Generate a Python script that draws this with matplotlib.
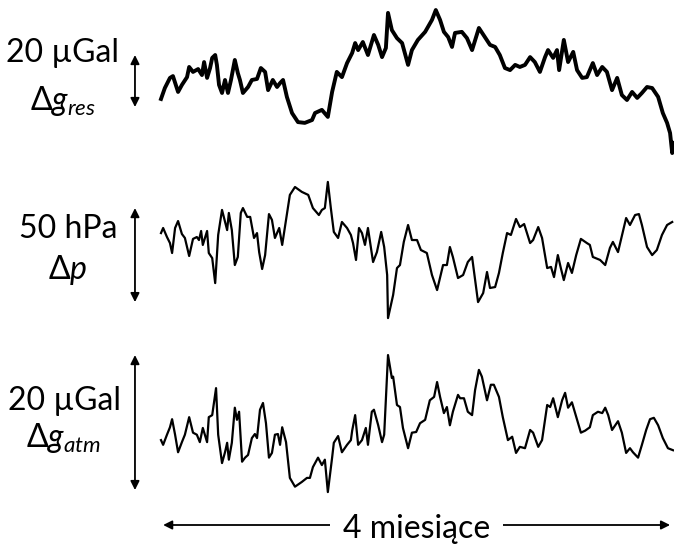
import matplotlib.pyplot as plt
from matplotlib import transforms

# time in days over the 4-month window
days_res = [0.0, 0.9, 2.1, 2.8, 4.0, 4.9, 6.1, 6.6, 7.5, 8.7, 9.6, 10.1, 10.8, 11.5, 12.0, 12.7,
            13.1, 13.6, 14.3, 15.0, 15.7, 16.4, 17.3, 18.0, 18.5, 19.2, 20.4, 21.3, 22.5, 23.4,
            24.4, 25.1, 26.2, 27.2, 27.9, 28.6, 29.5, 30.7, 32.1, 33.7, 35.4, 36.1, 37.7, 39.1,
            40.1, 41.2, 42.4, 43.6, 44.8, 45.5, 46.2, 47.3, 48.5, 49.9, 50.9, 51.8, 52.7, 53.2,
            54.1, 55.3, 56.5, 57.9, 58.8, 60.2, 61.9, 63.5, 64.4, 65.4, 66.3, 67.3, 68.2, 68.9,
            70.5, 71.7, 72.9, 74.5, 75.9, 77.1, 78.3, 79.4, 80.6, 81.8, 83.0, 84.1, 85.3, 86.5,
            87.6, 88.8, 90.0, 90.7, 91.9, 92.8, 93.3, 94.4, 95.4, 96.6, 97.5, 98.7, 99.8, 101.2,
            102.2, 103.4, 104.5, 105.7, 106.9, 108.0, 109.2, 110.4, 111.6, 112.7, 113.9, 115.1,
            116.5, 117.6, 118.6, 119.3, 119.8, 120.2]
g_res = [0.4, 4.6, 8.5, 9.2, 3.1, 5.8, 8.8, 12.7, 10.8, 11.9, 9.6, 14.6, 8.5, 12.3, 16.2, 17.3,
         13.5, 5.8, 2.7, 7.7, 2.7, 7.7, 15.4, 10.4, 7.7, 2.7, 5.0, 7.7, 8.1, 12.3,
         10.8, 3.8, 7.7, 5.0, 6.5, 7.7, 1.2, -5.0, -8.5, -8.8, -7.7, -5.0, -3.8, -6.5,
         3.1, 10.8, 8.8, 14.2, 18.1, 21.9, 19.2, 22.3, 17.3, 25.0, 21.2, 16.5, 20.0, 33.5,
         26.9, 23.8, 21.9, 13.5, 19.2, 23.1, 26.2, 30.8, 34.6, 30.8, 26.2, 24.2, 20.4, 25.8,
         26.2, 23.8, 19.2, 27.7, 24.2, 21.2, 20.4, 17.3, 12.3, 11.5, 13.5, 12.7, 13.5, 16.5,
         14.6, 10.8, 16.5, 19.2, 16.2, 19.2, 11.5, 23.1, 14.6, 18.5, 11.5, 8.5, 8.8, 14.2,
         9.6, 12.7, 10.8, 3.8, 8.5, 1.9, 0.0, 3.1, 0.8, 2.7, 5.0, 4.6,
         1.2, -5.0, -8.8, -12.7, -20.4, -16.5]

days_p = [0.0, 0.5, 1.4, 2.1, 2.6, 3.3, 4.0, 4.9, 5.6, 6.6, 7.5, 8.4, 8.9, 9.4, 9.8, 10.8, 11.2,
          12.0, 12.7, 13.4, 14.3, 15.5, 15.9, 16.6, 17.3, 18.0, 18.7, 19.2, 20.2, 20.9, 21.8,
          22.5, 23.0, 23.7, 24.4, 25.3, 26.0, 26.7, 27.7, 28.4, 29.3, 30.2, 31.4, 33.0, 34.5,
          35.6, 37.0, 37.7, 38.4, 39.1, 39.8, 40.5, 41.5, 42.4, 43.6, 44.5, 45.0, 45.7, 46.4,
          47.1, 47.8, 48.5, 49.0, 49.7, 50.6, 51.6, 52.3, 53.0, 53.2, 54.4, 55.3, 56.0, 56.9,
          57.9, 58.8, 60.0, 60.9, 62.3, 63.5, 64.7, 66.1, 67.0, 67.7, 68.4, 69.6, 70.8, 71.9,
          72.9, 74.3, 75.5, 76.4, 77.1, 78.3, 79.2, 80.1, 81.1, 82.0, 83.2, 84.1, 85.1, 86.5,
          87.2, 88.4, 89.3, 90.5, 91.4, 92.1, 93.0, 93.7, 94.4, 95.4, 96.3, 97.3, 98.4, 99.8,
          100.5, 101.2, 102.9, 104.1, 105.2, 105.9, 107.1, 109.0, 109.9, 111.1, 112.0, 112.7,
          113.9, 115.1, 116.2, 117.4, 118.6, 119.8]
p = [9.0, 11.7, 6.9, 3.7, -1.6, 11.7, 15.4, 8.5, 6.4, -3.2, 5.9, 6.9, 5.3, 10.1, 2.7, 10.1, -1.6,
     -4.3, -17.6, 8.0, 21.3, 10.6, 19.7, 10.6, -8.0, -3.7, 19.7, 22.3, 17.6, 17.6, 6.4,
     9.0, -1.1, -10.1, -2.7, 19.1, 16.0, 6.4, 11.7, 2.7, 16.0, 29.3, 33.5, 30.9, 29.3,
     22.3, 18.6, 21.3, 22.3, 36.2, 22.3, 9.6, 6.4, 14.9, 11.7, 8.0, 3.7, -5.3, 11.7,
     9.0, 2.7, 11.7, 4.3, -6.4, -1.1, 9.6, 1.6, -13.3, -36.2, -23.9, -9.6, -8.0, 4.3,
     13.3, 5.3, 5.3, 0.0, -1.6, -13.3, -21.3, -8.0, -8.0, 1.6, -3.7, -14.9, -13.3, -6.4,
     -3.7, -27.7, -22.9, -11.7, -20.2, -19.7, -12.2, -1.6, 9.0, 8.0, 16.5, 12.2, 13.8, 3.7,
     5.3, 12.2, 6.4, -9.6, -9.0, -14.4, -2.7, -9.6, -16.0, -6.9, -12.2, -2.7, 5.9, 3.7,
     2.7, -3.7, -5.3, -8.0, 1.1, 4.3, -1.1, 17.0, 13.3, 18.6, 19.1, 13.3,
     1.6, -2.7, 0.0, 8.0, 13.3, 14.9]

days_atm = [0.0, 0.5, 1.4, 2.1, 2.6, 3.3, 4.0, 4.9, 5.6, 6.6, 7.5, 8.4, 9.1, 9.8, 10.8, 11.2,
            12.0, 12.9, 13.4, 14.3, 15.0, 15.5, 15.9, 16.6, 17.3, 17.8, 18.3, 19.0, 19.7, 20.4,
            21.3, 22.0, 22.5, 23.2, 23.9, 24.6, 25.3, 26.0, 26.7, 27.4, 27.9, 28.4, 29.3, 30.2,
            31.4, 33.0, 34.2, 34.9, 35.6, 36.8, 37.7, 38.4, 39.1, 40.1, 40.5, 41.5, 42.4, 43.6,
            44.5, 44.8, 45.5, 46.2, 47.1, 48.0, 48.5, 49.4, 49.9, 50.9, 51.8, 52.3, 53.2, 54.1,
            54.4, 55.3, 56.0, 56.7, 57.9, 58.8, 59.8, 60.7, 61.9, 63.0, 64.0, 64.7, 65.4, 66.3,
            67.0, 67.7, 68.4, 69.6, 70.1, 71.0, 71.9, 72.9, 73.6, 74.5, 75.2, 76.4, 77.3, 78.0,
            79.2, 80.1, 81.3, 82.3, 83.2, 84.1, 85.3, 86.5, 87.2, 88.4, 89.3, 90.5, 91.2, 91.9,
            93.0, 94.0, 94.7, 95.4, 96.3, 97.5, 98.4, 99.4, 100.5, 101.2, 102.4, 103.4, 104.1,
            104.8, 105.7, 107.1, 108.0, 109.0, 109.9, 110.6, 111.8, 112.7, 113.7, 114.6, 115.5,
            116.5, 117.6, 118.8, 120.0]
g_atm = [-1.5, -2.2, -0.7, 0.4, 1.6, -0.7, -3.3, -1.8, -0.7, 1.9, -0.4, -0.7, -1.8, 0.3, -1.8, 1.9,
         2.2, 6.2, -0.7, -4.9, -3.3, -1.9, -4.4, -1.9, 3.3, 1.5, 2.7, -4.7, -4.1, -3.7,
         -1.2, -0.6, -1.2, 3.0, 4.0, 1.0, -4.1, -3.4, -0.7, -0.6, -2.2, 0.4, -1.8, -7.1,
         -8.4, -7.7, -7.1, -7.1, -5.5, -4.1, -5.2, -4.4, -9.2, -4.1, -1.9, -0.9, -3.3, -2.2,
         -1.5, -0.1, 2.2, -2.2, -1.5, 0.3, -2.2, 2.7, 3.0, 0.7, -1.8, -0.7, 11.1, 7.7,
         7.9, 3.7, 3.4, 0.3, -2.7, -0.4, -0.3, 1.0, 1.5, 4.4, 4.9, 7.1, 4.9, 2.5,
         3.4, 0.7, 2.7, 5.2, 4.7, 4.7, 2.7, 2.2, 5.9, 8.9, 7.9, 4.4, 6.7, 6.7,
         4.9, 1.9, -1.5, -1.0, -3.4, -2.5, -2.7, 0.0, -0.4, -2.5, -1.5, 3.7, 3.4, 4.7,
         1.9, 4.4, 5.5, 3.3, 4.1, 1.5, -0.4, -0.1, 0.4, 2.2, 2.7, 2.5, 3.3,
         2.2, 0.0, 1.3, -0.4, -3.4, -2.7, -3.3, -4.1, -2.2, 0.0, 1.6, 1.8,
         0.7, -1.2, -2.7, -3.0]

labels_top = ['20 µGal', '50 hPa', '20 µGal']
labels_sym = [r'$\Delta g_{res}$', r'$\Delta p$', r'$\Delta g_{atm}$']
scale_len = [20, 50, 20]
span_text = '4 miesiące'

plt.rcParams['font.family'] = ['Lato', 'DejaVu Sans']
plt.rcParams['mathtext.fontset'] = 'custom'
plt.rcParams['mathtext.rm'] = 'Lato'
plt.rcParams['mathtext.it'] = 'Lato:italic'

W, H = 674, 545
fig = plt.figure(figsize=(W / 100, H / 100), dpi=100)
XLIM = (-37.73, 120.22)


def panel(top_px, bot_px, ylim):
    ax = fig.add_axes([0, 1 - bot_px / H, 1, (bot_px - top_px) / H])
    ax.set_xlim(XLIM)
    ax.set_ylim(ylim)
    ax.axis('off')
    return ax


ax1 = panel(0, 165, (-25.0, 38.46))
ax2 = panel(165, 335, (-45.2, 45.2))
ax3 = panel(335, 545, (-17.04, 14.07))

ax1.plot(days_res, g_res, color='black', lw=2.8)
ax2.plot(days_p, p, color='black', lw=1.6)
ax3.plot(days_atm, g_atm, color='black', lw=1.6)

# scale bars
bar_base = [-2.7, -27.7, -8.9]
arrow_kw = dict(arrowstyle='<|-|>', color='black', lw=1.3, mutation_scale=13,
                shrinkA=0, shrinkB=0)
for ax, base, length in zip([ax1, ax2, ax3], bar_base, scale_len):
    ax.annotate('', xy=(-6.1, base + length), xytext=(-6.1, base),
                arrowprops=arrow_kw, annotation_clip=False)

# labels (x centre, baseline of line 1, baseline of line 2) in pixels
label_pos = [(63, 62, 110), (68, 238, 279), (64, 410, 447)]
for (x, y1, y2), t1, t2 in zip(label_pos, labels_top, labels_sym):
    fig.text(x / W, 1 - y1 / H, t1, ha='center', va='baseline', fontsize=23)
    fig.text(x / W, 1 - y2 / H, t2, ha='center', va='baseline', fontsize=23)

# time span arrow
y_span = 1 - 525 / H
ax3.annotate('', xy=(119.3, y_span), xytext=(0.5, y_span),
             xycoords=('data', 'figure fraction'),
             arrowprops=arrow_kw, annotation_clip=False)
ax3.text(59.8, 1 - 538 / H, span_text,
         transform=transforms.blended_transform_factory(ax3.transData, fig.transFigure),
         ha='center', va='baseline', fontsize=23,
         bbox=dict(boxstyle='square,pad=0.4', fc='white', ec='none'))

fig.savefig('out.png', dpi=100)
